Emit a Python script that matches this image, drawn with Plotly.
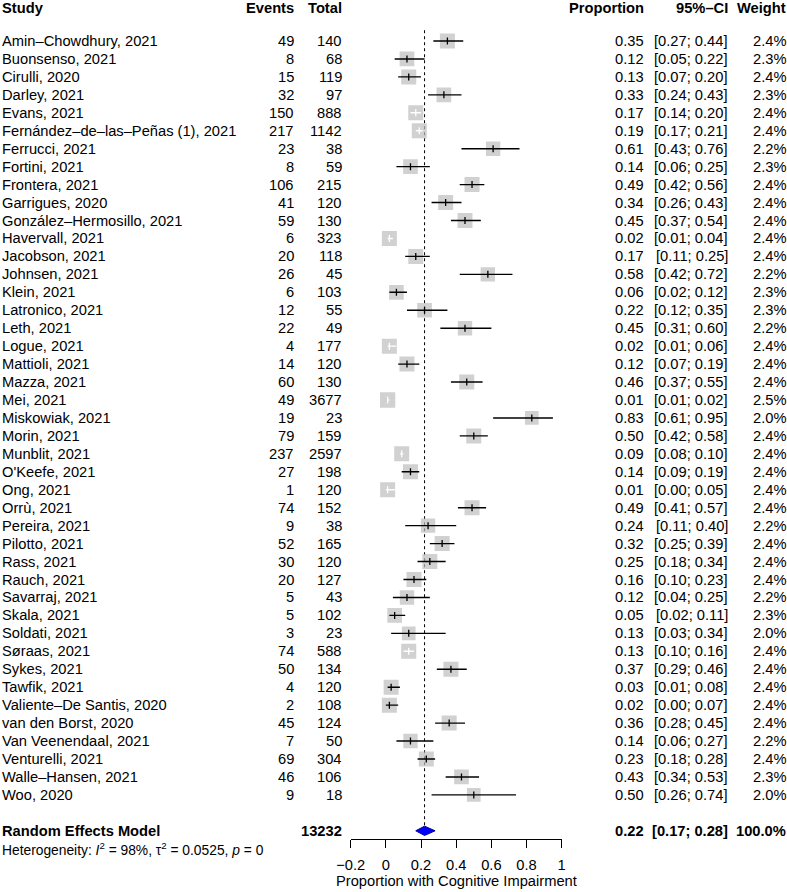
import plotly.graph_objects as go

# Дані з форест-плоту
studies = [
    "Amin–Chowdhury, 2021", "Buonsenso, 2021", "Cirulli, 2020", "Darley, 2021",
    "Evans, 2021", "Fernández–de–las–Peñas (1), 2021", "Ferrucci, 2021", "Fortini, 2021",
    "Frontera, 2021", "Garrigues, 2020", "González–Hermosillo, 2021", "Havervall, 2021",
    "Jacobson, 2021", "Johnsen, 2021", "Klein, 2021", "Latronico, 2021", "Leth, 2021",
    "Logue, 2021", "Mattioli, 2021", "Mazza, 2021", "Mei, 2021", "Miskowiak, 2021",
    "Morin, 2021", "Munblit, 2021", "O'Keefe, 2021", "Ong, 2021", "Orrù, 2021",
    "Pereira, 2021", "Pilotto, 2021", "Rass, 2021", "Rauch, 2021", "Savarraj, 2021",
    "Skala, 2021", "Soldati, 2021", "Søraas, 2021", "Sykes, 2021", "Tawfik, 2021",
    "Valiente–De Santis, 2020", "van den Borst, 2020", "Van Veenendaal, 2021",
    "Venturelli, 2021", "Walle–Hansen, 2021", "Woo, 2020",
]
events = [49, 8, 15, 32, 150, 217, 23, 8, 106, 41, 59, 6, 20, 26, 6, 12, 22, 4, 14, 60,
          49, 19, 79, 237, 27, 1, 74, 9, 52, 30, 20, 5, 5, 3, 74, 50, 4, 2, 45, 7, 69, 46, 9]
totals = [140, 68, 119, 97, 888, 1142, 38, 59, 215, 120, 130, 323, 118, 45, 103, 55, 49,
          177, 120, 130, 3677, 23, 159, 2597, 198, 120, 152, 38, 165, 120, 127, 43, 102,
          23, 588, 134, 120, 108, 124, 50, 304, 106, 18]
prop = [0.35, 0.12, 0.13, 0.33, 0.17, 0.19, 0.61, 0.14, 0.49, 0.34, 0.45, 0.02, 0.17,
        0.58, 0.06, 0.22, 0.45, 0.02, 0.12, 0.46, 0.01, 0.83, 0.50, 0.09, 0.14, 0.01,
        0.49, 0.24, 0.32, 0.25, 0.16, 0.12, 0.05, 0.13, 0.13, 0.37, 0.03, 0.02, 0.36,
        0.14, 0.23, 0.43, 0.50]
ci_lo = [0.27, 0.05, 0.07, 0.24, 0.14, 0.17, 0.43, 0.06, 0.42, 0.26, 0.37, 0.01, 0.11,
         0.42, 0.02, 0.12, 0.31, 0.01, 0.07, 0.37, 0.01, 0.61, 0.42, 0.08, 0.09, 0.00,
         0.41, 0.11, 0.25, 0.18, 0.10, 0.04, 0.02, 0.03, 0.10, 0.29, 0.01, 0.00, 0.28,
         0.06, 0.18, 0.34, 0.26]
ci_hi = [0.44, 0.22, 0.20, 0.43, 0.20, 0.21, 0.76, 0.25, 0.56, 0.43, 0.54, 0.04, 0.25,
         0.72, 0.12, 0.35, 0.60, 0.06, 0.19, 0.55, 0.02, 0.95, 0.58, 0.10, 0.19, 0.05,
         0.57, 0.40, 0.39, 0.34, 0.23, 0.25, 0.11, 0.34, 0.16, 0.46, 0.08, 0.07, 0.45,
         0.27, 0.28, 0.53, 0.74]
weights = [2.4, 2.3, 2.4, 2.3, 2.4, 2.4, 2.2, 2.3, 2.4, 2.4, 2.4, 2.4, 2.4, 2.2, 2.3,
           2.3, 2.2, 2.4, 2.4, 2.4, 2.5, 2.0, 2.4, 2.4, 2.4, 2.4, 2.4, 2.2, 2.4, 2.4,
           2.4, 2.2, 2.3, 2.0, 2.4, 2.4, 2.4, 2.4, 2.4, 2.2, 2.4, 2.3, 2.0]

re_total = 13232
re_prop, re_lo, re_hi = 0.22, 0.17, 0.28
het_text = "Heterogeneity: <i>I</i><sup>2</sup> = 98%, τ<sup>2</sup> = 0.0525, <i>p</i> = 0"

tick_vals = [-0.2, 0, 0.2, 0.4, 0.6, 0.8, 1]
tick_text = ["−0.2", "0", "0.2", "0.4", "0.6", "0.8", "1"]

# Геометрія (пікселі)
W, H = 787, 892
FONT = "Liberation Sans, Arial, Helvetica, sans-serif"
FS = 14.7
PX_PER_UNIT = (561.7 - 350.7) / 1.2
ROW0, ROW_H = 41, 17.95
AXIS_Y = 838.5
RE_ROW = len(studies) + 1


def px(p):
    return p / W


sq_sizes = [15.3 * (w / 2.5) ** 0.5 for w in weights]

fig = go.Figure()

# Квадрати
fig.add_trace(go.Scatter(
    x=prop, y=list(range(len(studies))), mode="markers",
    marker=dict(symbol="square", size=sq_sizes, color="#BEBEBE", line=dict(width=0)),
    hoverinfo="skip", showlegend=False,
))

# Довірчі інтервали (білі, якщо весь інтервал всередині квадрата)
for col in ("black", "white"):
    xs, ys, ex, ey = [], [], [], []
    for i in range(len(studies)):
        half = sq_sizes[i] / 2 / PX_PER_UNIT
        inside = (prop[i] - ci_lo[i] < half) and (ci_hi[i] - prop[i] < half)
        if (col == "white") != inside:
            continue
        xs += [ci_lo[i], ci_hi[i], None]
        ys += [i, i, None]
        ex.append(prop[i])
        ey.append(i)
    fig.add_trace(go.Scatter(
        x=xs, y=ys, mode="lines", line=dict(color=col, width=1.4),
        hoverinfo="skip", showlegend=False,
    ))
    fig.add_trace(go.Scatter(
        x=ex, y=ey, mode="markers",
        marker=dict(symbol="line-ns", size=5, line=dict(color=col, width=1.3)),
        hoverinfo="skip", showlegend=False,
    ))

# Ромб загального ефекту
dh = 0.26
fig.add_trace(go.Scatter(
    x=[re_lo, re_prop, re_hi, re_prop, re_lo],
    y=[RE_ROW, RE_ROW - dh, RE_ROW, RE_ROW + dh, RE_ROW],
    mode="lines", fill="toself", fillcolor="#0000FF",
    line=dict(color="#00008B", width=1),
    hoverinfo="skip", showlegend=False,
))

fig.add_shape(type="line", x0=re_prop, x1=re_prop, y0=-0.6, y1=RE_ROW,
              xref="x", yref="y", line=dict(color="black", width=1, dash="dot"),
              layer="below")

# Текстові колонки
annots = []


def txt(text, xpix, row, anchor="right", bold=False, size=FS):
    if bold:
        text = f"<b>{text}</b>"
    annots.append(dict(
        text=text, x=px(xpix), y=row, xref="paper", yref="y",
        xanchor=anchor, yanchor="middle", showarrow=False,
        font=dict(family=FONT, size=size, color="black"),
    ))


HDR = -1.85
txt("Study", 0, HDR, "left", True)
txt("Events", 296, HDR, bold=True)
txt("Total", 344, HDR, bold=True)
txt("Proportion", 646, HDR, bold=True)
txt("95%–CI", 730, HDR, bold=True)
txt("Weight", 788, HDR, bold=True)

for i, s in enumerate(studies):
    txt(s, 0, i, "left")
    txt(str(events[i]), 296, i)
    txt(str(totals[i]), 344, i)
    txt(f"{prop[i]:.2f}", 646, i)
    txt(f"[{ci_lo[i]:.2f}; {ci_hi[i]:.2f}]", 730, i)
    txt(f"{weights[i]:.1f}%", 788, i)

txt("Random Effects Model", 0, RE_ROW, "left", True)
txt(str(re_total), 344, RE_ROW, bold=True)
txt(f"{re_prop:.2f}", 646, RE_ROW, bold=True)
txt(f"[{re_lo:.2f}; {re_hi:.2f}]", 730, RE_ROW, bold=True)
txt("100.0%", 788, RE_ROW, bold=True)

# Рядок гетерогенності лежить нижче осі — у координатах paper
het_px = ROW0 + (RE_ROW + 1) * ROW_H
annots.append(dict(
    text=het_text, x=0, y=(H - het_px) / H, xref="paper", yref="paper",
    xanchor="left", yanchor="middle", showarrow=False,
    font=dict(family=FONT, size=13.8, color="black"),
))

annots.append(dict(
    text="Proportion with Cognitive Impairment", x=0.4, y=(H - 881) / H,
    xref="x", yref="paper", xanchor="center", yanchor="middle", showarrow=False,
    font=dict(family=FONT, size=FS, color="black"),
))

y_top = -ROW0 / ROW_H
y_bot = (AXIS_Y - ROW0) / ROW_H

fig.update_layout(
    template="none",
    width=W, height=H,
    margin=dict(l=0, r=0, t=0, b=0),
    paper_bgcolor="white", plot_bgcolor="white",
    font=dict(family=FONT, size=FS, color="black"),
    xaxis=dict(
        domain=[350.7 / W, 561.7 / W], range=[-0.2, 1],
        showline=True, linecolor="black", linewidth=1,
        ticks="outside", ticklen=8, tickwidth=1, tickcolor="black",
        ticklabelstandoff=5,
        tickvals=tick_vals, ticktext=tick_text,
        tickfont=dict(family=FONT, size=FS, color="black"),
        showgrid=False, zeroline=False, automargin=False,
    ),
    yaxis=dict(
        domain=[(H - AXIS_Y) / H, 1], range=[y_bot, y_top],
        visible=False, showgrid=False, zeroline=False, automargin=False,
    ),
    annotations=annots,
    showlegend=False,
)

fig.write_html(
    "out.html",
    config={"displayModeBar": False},
    post_script="document.body.style.margin='0';document.body.style.overflow='hidden';",
)
